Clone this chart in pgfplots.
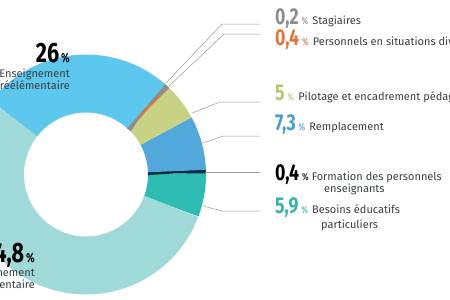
\documentclass[border=0pt]{standalone}
\usepackage{fontspec}
\setmainfont{Fira Sans}
\newfontfamily\numfamily[FakeStretch=0.77]{Fira Sans}
\usepackage{pgfplots}
\usepackage{pgfplotstable}
\pgfplotsset{compat=1.18}

\definecolor{cteal}{HTML}{2DBBB2}
\definecolor{cnavy}{HTML}{0F2A44}
\definecolor{cremp}{HTML}{52A8DB}
\definecolor{cpilot}{HTML}{C8D284}
\definecolor{corange}{HTML}{E0743A}
\definecolor{cgrey}{HTML}{8E8E8E}
\definecolor{cpre}{HTML}{5EC7EE}
\definecolor{celem}{HTML}{9FD9D8}
\definecolor{ctext}{HTML}{3A3F45}
\definecolor{cline}{HTML}{9A9A9A}
\definecolor{npilot}{HTML}{B9C677}
\definecolor{nremp}{HTML}{4A9CD2}
\definecolor{nteal}{HTML}{3AB3AE}

\pgfplotstableread{
val color
5.9 cteal
0.4 cnavy
7.3 cremp
5 cpilot
0.4 corange
0.2 cgrey
26 cpre
54.8 celem
}\donut

\newcommand\numR{\numfamily\bfseries\fontsize{23}{23}\selectfont}
\newcommand\pctR{\numfamily\bfseries\fontsize{10}{10}\selectfont}
\newcommand\numL{\numfamily\bfseries\fontsize{28}{28}\selectfont}
\newcommand\pctL{\numfamily\bfseries\fontsize{13}{13}\selectfont}
\newcommand\lbl{\fontsize{11}{12}\selectfont}

\begin{document}
\begin{tikzpicture}
\pgfplotstablegetrowsof{\donut}
\pgfmathtruncatemacro\nrows{\pgfplotsretval-1}
\begin{axis}[x=1pt, y=1pt, xmin=0, xmax=450, ymin=0, ymax=300, y dir=reverse,
  hide axis, clip=true]
\def\cum{-20.5}
\pgfplotsforeachungrouped \i in {0,...,\nrows}{%
  \pgfplotstablegetelem{\i}{val}\of\donut \let\v\pgfplotsretval
  \pgfplotstablegetelem{\i}{color}\of\donut \let\c\pgfplotsretval
  \pgfmathsetmacro\b{\cum+3.6*\v}%
  \edef\tmp{\noexpand\addplot[draw=\c, line width=58pt, domain=\cum:\b, samples=80, forget plot]}%
  \tmp ({86+91*cos(x)},{174.5-91*sin(x)});
  \global\let\cum\b
}

% leader lines
\draw[cline, line width=0.5pt] (166,83) -- (222,24) -- (260,24);
\draw[cline, line width=0.5pt] (169,86) -- (224,34) -- (260,34);
\draw[cline, line width=0.5pt] (192,113) -- (220,102) -- (260,102);
\draw[cline, line width=0.5pt] (203,143) -- (223,136) -- (260,136);
\draw[cline, line width=0.5pt] (205,172) -- (260,172);
\draw[cline, line width=0.5pt] (203,206) -- (222,211) -- (260,211);

% right labels
\node[anchor=base west, inner sep=0pt] at (275,24) {\textcolor{cgrey}{\numR 0,2}\hspace{3pt}\textcolor{cgrey!80}{\pctR\%}\hspace{4pt}\textcolor{ctext}{\lbl Stagiaires}};
\node[anchor=base west, inner sep=0pt] at (275,45) {\textcolor{corange}{\numR 0,4}\hspace{3pt}\textcolor{corange!80}{\pctR\%}\hspace{4pt}\textcolor{ctext}{\lbl Personnels en situations diverses}};
\node[anchor=base west, inner sep=0pt] at (275,100) {\textcolor{npilot}{\numR 5}\hspace{3pt}\textcolor{npilot!80}{\pctR\%}\hspace{4pt}\textcolor{ctext}{\lbl Pilotage et encadrement pédagogique}};
\node[anchor=base west, inner sep=0pt] at (275,130) {\textcolor{nremp}{\numR 7,3}\hspace{3pt}\textcolor{nremp!80}{\pctR\%}\hspace{4pt}\textcolor{ctext}{\lbl Remplacement}};
\node[anchor=base west, inner sep=0pt] at (275,180) {\textcolor{black}{\numR 0,4}\hspace{3pt}\textcolor{black!80}{\pctR\%}\hspace{3pt}\textcolor{ctext}{\lbl Formation des personnels}};
\node[anchor=base west, inner sep=0pt, text=ctext, font=\lbl] at (324,192) {enseignants};
\node[anchor=base west, inner sep=0pt] at (275,213) {\textcolor{nteal}{\numR 5,9}\hspace{3pt}\textcolor{nteal!80}{\pctR\%}\hspace{4pt}\textcolor{ctext}{\lbl Besoins éducatifs}};
\node[anchor=base west, inner sep=0pt, text=ctext, font=\lbl] at (321,228) {particuliers};

% left labels
\node[anchor=base east, inner sep=0pt] at (70,62) {\numL 26\hspace{2pt}{\pctL\%}};
\node[anchor=base east, inner sep=0pt, text=ctext, font=\lbl] at (70,77) {Enseignement};
\node[anchor=base east, inner sep=0pt, text=ctext, font=\lbl] at (70,89) {préélémentaire};
\node[anchor=base east, inner sep=0pt] at (35,262) {\numL 54,8\hspace{2pt}{\pctL\%}};
\node[anchor=base east, inner sep=0pt, text=ctext, font=\lbl] at (35,276) {Enseignement};
\node[anchor=base east, inner sep=0pt, text=ctext, font=\lbl] at (35,288) {élémentaire};
\end{axis}
\pgfresetboundingbox
\path (current axis.south west) rectangle (current axis.north east);
\end{tikzpicture}
\end{document}
